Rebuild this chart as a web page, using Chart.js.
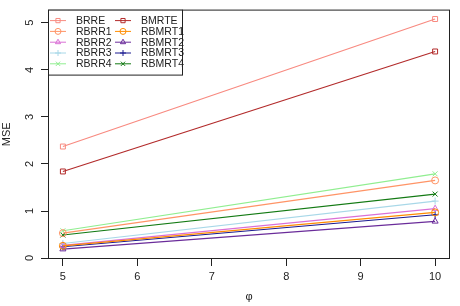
<!DOCTYPE html>
<html>
<head>
<meta charset="utf-8">
<script src="https://cdn.jsdelivr.net/npm/chart.js@4"></script>
<style>
  html, body { margin: 0; padding: 0; background: #fff; }
  #wrap { width: 460px; height: 306px; }
</style>
</head>
<body>
<div id="wrap"><canvas id="mseChart" width="460" height="306"></canvas></div>
<script>
// =========================================
// Data
// =========================================

const phi = [5, 10];
const xTicks = [5, 6, 7, 8, 9, 10];
const yTicks = [0, 1, 2, 3, 4, 5];

const brre   = [2.37, 5.08];
const bmrte  = [1.84, 4.39];
const rbrr1  = [0.53, 1.65];
const rbmrt1 = [0.26, 0.97];
const rbrr2  = [0.27, 1.05];
const rbmrt2 = [0.19, 0.78];
const rbrr3  = [0.31, 1.21];
const rbmrt3 = [0.24, 0.92];
const rbrr4  = [0.58, 1.79];
const rbmrt4 = [0.49, 1.36];

const seriesNames = ["BRRE", "BMRTE", "RBRR1", "RBMRT1", "RBRR2", "RBMRT2", "RBRR3", "RBMRT3", "RBRR4", "RBMRT4"];
const seriesValues = [brre, bmrte, rbrr1, rbmrt1, rbrr2, rbmrt2, rbrr3, rbmrt3, rbrr4, rbmrt4];
const seriesColors = ["#F88A80", "#B22A2A", "#FF9466", "#FF8C00", "#DA70D6", "#6A2C9A", "#A8D8E8", "#1A1A90", "#90EE90", "#137A13"];
const seriesShapes = ["rect", "rect", "circle", "circle", "triangle", "triangle", "cross", "cross", "crossRot", "crossRot"];

const FONT = "'Liberation Sans', Arial, sans-serif";

// =========================================
// Plot box, rotated y labels and legend
// =========================================

const boxPlugin = {
    id: "boxPlugin",
    afterDraw(chart) {
        const ctx = chart.ctx;
        const a = chart.chartArea;

        ctx.save();
        ctx.strokeStyle = "#222";
        ctx.lineWidth = 1;
        ctx.strokeRect(a.left + 0.5, a.top + 0.5, a.right - a.left - 1, a.bottom - a.top - 1);

        // y tick labels, rotated like R
        const yScale = chart.scales.y;
        ctx.fillStyle = "#222";
        ctx.font = "11px " + FONT;
        ctx.textAlign = "center";
        ctx.textBaseline = "middle";
        yTicks.forEach(v => {
            const py = yScale.getPixelForValue(v);
            ctx.save();
            ctx.translate(30, py);
            ctx.rotate(-Math.PI / 2);
            ctx.fillText(String(v), 0, 0);
            ctx.restore();
        });

        // legend box
        const lx = a.left, ly = a.top;
        const lw = 134, lh = 65;
        ctx.fillStyle = "#fff";
        ctx.fillRect(lx, ly, lw, lh);
        ctx.strokeStyle = "#222";
        ctx.strokeRect(lx + 0.5, ly + 0.5, lw, lh);

        ctx.font = "10.5px " + FONT;
        ctx.textAlign = "left";
        chart.data.datasets.forEach((ds, i) => {
            const col = i % 2;
            const row = Math.floor(i / 2);
            const sx = lx + 10 + col * 65;
            const sy = ly + 11 + row * 10.8;
            ctx.strokeStyle = ds.borderColor;
            ctx.lineWidth = 1;
            ctx.beginPath();
            ctx.moveTo(sx - 8, sy);
            ctx.lineTo(sx + 8, sy);
            ctx.stroke();
            ctx.fillStyle = "rgba(0,0,0,0)";
            Chart.helpers.drawPoint(ctx, {
                pointStyle: ds.pointStyle,
                radius: 3,
                rotation: 0,
                borderWidth: 1
            }, sx, sy);
            ctx.fillStyle = "#222";
            ctx.fillText(ds.label, sx + 18, sy + 0.5);
        });
        ctx.restore();
    }
};

// =========================================
// MSE vs phi chart
// =========================================

const mseCanvas = document.getElementById("mseChart");

new Chart(mseCanvas, {
    type: "line",
    data: {
        datasets: seriesNames.map((name, i) => ({
            label: name,
            data: phi.map((x, j) => ({ x: x, y: seriesValues[i][j] })),
            borderColor: seriesColors[i],
            backgroundColor: "rgba(0,0,0,0)",
            pointBorderColor: seriesColors[i],
            pointBackgroundColor: "rgba(0,0,0,0)",
            pointStyle: seriesShapes[i],
            pointRadius: 3.5,
            pointBorderWidth: 1,
            borderWidth: 1.2,
            tension: 0
        }))
    },
    options: {
        responsive: false,
        animation: false,
        layout: { padding: { left: 0, top: 8, right: 10, bottom: 0 } },
        plugins: {
            legend: { display: false },
            tooltip: { enabled: false }
        },
        scales: {
            x: {
                type: "linear",
                min: 4.8,
                max: 10.2,
                afterBuildTicks: s => { s.ticks = xTicks.map(v => ({ value: v })); },
                afterFit: s => { s.height = 47; },
                grid: { drawOnChartArea: false, drawTicks: true, tickLength: 7, tickColor: "#222" },
                border: { display: false },
                ticks: { color: "#222", font: { family: FONT, size: 11 }, padding: 4, maxRotation: 0 },
                title: { display: true, text: "φ", color: "#222", font: { family: FONT, size: 11 }, padding: { top: 0, bottom: 2 } }
            },
            y: {
                type: "linear",
                min: -0.02,
                max: 5.28,
                afterBuildTicks: s => { s.ticks = yTicks.map(v => ({ value: v })); },
                afterFit: s => { s.width = 48; },
                grid: { drawOnChartArea: false, drawTicks: true, tickLength: 7, tickColor: "#222" },
                border: { display: false },
                ticks: { color: "rgba(0,0,0,0)", font: { family: FONT, size: 11 } },
                title: { display: true, text: "MSE", color: "#222", font: { family: FONT, size: 11 }, padding: { top: 0, bottom: 0 } }
            }
        }
    },
    plugins: [boxPlugin]
});
</script>
</body>
</html>
